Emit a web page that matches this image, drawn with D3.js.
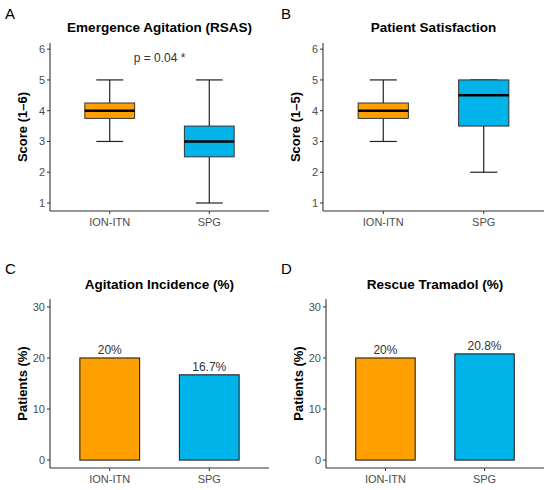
<!DOCTYPE html>
<html>
<head>
<meta charset="utf-8">
<script src="https://cdn.jsdelivr.net/npm/d3@7"></script>
<style>
  body { margin: 0; background: #fff; }
  text { font-family: "Liberation Sans", Arial, sans-serif; }
</style>
</head>
<body>
<svg width="550" height="490"></svg>
<script>
// data
const groups = ['ION-ITN', 'SPG'];
const groupColors = ['#FFA000', '#00B4EA'];

// box stats: [min, q1, median, q3, max]
const agitationBox = [[3, 3.75, 4, 4.25, 5], [1, 2.5, 3, 3.5, 5]];
const satisfactionBox = [[3, 3.75, 4, 4.25, 5], [2, 3.5, 4.5, 5, 5]];
const scoreTicks = [1, 2, 3, 4, 5, 6];

const agitationPct = [20, 16.7];
const tramadolPct = [20, 20.8];
const pctLabelsC = ['20%', '16.7%'];
const pctLabelsD = ['20%', '20.8%'];
const pctTicks = [0, 10, 20, 30];

const svg = d3.select('svg');

function frame(g, x, y, yTicks, opt) {
    // axis lines
    g.append('line')
        .attr('x1', opt.left).attr('x2', opt.left)
        .attr('y1', opt.top).attr('y2', opt.bottom)
        .attr('stroke', '#333').attr('stroke-width', 1.1);
    g.append('line')
        .attr('x1', opt.left).attr('x2', opt.right)
        .attr('y1', opt.bottom).attr('y2', opt.bottom)
        .attr('stroke', '#333').attr('stroke-width', 1.1);

    // y ticks
    yTicks.forEach(function(t) {
        g.append('line')
            .attr('x1', opt.left - 3).attr('x2', opt.left)
            .attr('y1', y(t)).attr('y2', y(t))
            .attr('stroke', '#333');
        g.append('text')
            .attr('x', opt.left - 5).attr('y', y(t)).attr('dy', '0.36em')
            .attr('text-anchor', 'end')
            .style('font-size', '11px').style('fill', '#4d4d4d')
            .text(t);
    });

    // x ticks
    groups.forEach(function(c) {
        g.append('line')
            .attr('x1', x(c)).attr('x2', x(c))
            .attr('y1', opt.bottom).attr('y2', opt.bottom + 3)
            .attr('stroke', '#333');
        g.append('text')
            .attr('x', x(c)).attr('y', opt.bottom + 15)
            .attr('text-anchor', 'middle')
            .style('font-size', '11px').style('fill', '#4d4d4d')
            .text(c);
    });

    // title
    g.append('text')
        .attr('x', (opt.left + opt.right) / 2).attr('y', opt.titleY)
        .attr('text-anchor', 'middle')
        .style('font-size', '13.5px').style('font-weight', 'bold')
        .text(opt.title);

    // y label
    g.append('text')
        .attr('transform', `translate(${opt.left - 23},${(opt.top + opt.bottom) / 2}) rotate(-90)`)
        .attr('text-anchor', 'middle')
        .style('font-size', '13px').style('font-weight', 'bold')
        .text(opt.ylab);

    // panel letter
    g.append('text')
        .attr('x', opt.letterX).attr('y', opt.letterY)
        .style('font-size', '15px')
        .text(opt.letter);
}

function boxPanel(stats, opt) {
    const g = svg.append('g');
    const x = d3.scalePoint().domain(groups).range([opt.left, opt.right]).padding(0.6);
    const y = d3.scaleLinear().domain([0.74, 6.2]).range([opt.bottom, opt.top]);
    const step = x.step();
    const bw = step * 0.5;
    const cw = step * 0.27;

    groups.forEach(function(c, i) {
        const s = stats[i];
        const cx = x(c);
        // whiskers
        g.append('line')
            .attr('x1', cx).attr('x2', cx).attr('y1', y(s[0])).attr('y2', y(s[1]))
            .attr('stroke', '#222').attr('stroke-width', 1.2);
        g.append('line')
            .attr('x1', cx).attr('x2', cx).attr('y1', y(s[3])).attr('y2', y(s[4]))
            .attr('stroke', '#222').attr('stroke-width', 1.2);
        [s[0], s[4]].forEach(function(v) {
            g.append('line')
                .attr('x1', cx - cw / 2).attr('x2', cx + cw / 2)
                .attr('y1', y(v)).attr('y2', y(v))
                .attr('stroke', '#222').attr('stroke-width', 1.2);
        });
        // box
        g.append('rect')
            .attr('x', cx - bw / 2).attr('width', bw)
            .attr('y', y(s[3])).attr('height', y(s[1]) - y(s[3]))
            .attr('fill', groupColors[i])
            .attr('stroke', '#333').attr('stroke-width', 1);
        // median
        g.append('line')
            .attr('x1', cx - bw / 2).attr('x2', cx + bw / 2)
            .attr('y1', y(s[2])).attr('y2', y(s[2]))
            .attr('stroke', '#000').attr('stroke-width', 2.4);
    });

    frame(g, x, y, scoreTicks, opt);
    return { g: g, x: x, y: y };
}

function barPanel(values, labels, opt) {
    const g = svg.append('g');
    const x = d3.scalePoint().domain(groups).range([opt.left, opt.right]).padding(0.6);
    const y = d3.scaleLinear().domain([-1.55, 31.55]).range([opt.bottom, opt.top]);
    const bw = x.step() * 0.6;

    g.selectAll('.bar')
        .data(values)
        .enter()
        .append('rect')
        .attr('x', function(d, i) { return x(groups[i]) - bw / 2; })
        .attr('width', bw)
        .attr('y', function(d) { return y(d); })
        .attr('height', function(d) { return y(0) - y(d); })
        .attr('fill', function(d, i) { return groupColors[i]; })
        .attr('stroke', '#222').attr('stroke-width', 1.1);

    g.selectAll('.lab')
        .data(values)
        .enter()
        .append('text')
        .attr('x', function(d, i) { return x(groups[i]); })
        .attr('y', function(d) { return y(d) - 4; })
        .attr('text-anchor', 'middle')
        .style('font-size', '12px').style('fill', '#333')
        .text(function(d, i) { return labels[i]; });

    frame(g, x, y, pctTicks, opt);
}

const a = boxPanel(agitationBox, {
    left: 50, right: 269, top: 43, bottom: 211, titleY: 32,
    title: 'Emergence Agitation (RSAS)', ylab: 'Score (1\u20136)',
    letter: 'A', letterX: 5, letterY: 19
});
a.g.append('text')
    .attr('x', (a.x('ION-ITN') + a.x('SPG')) / 2).attr('y', 62)
    .attr('text-anchor', 'middle')
    .style('font-size', '12px').style('fill', '#333')
    .text('p = 0.04 *');

boxPanel(satisfactionBox, {
    left: 323, right: 544, top: 43, bottom: 211, titleY: 32,
    title: 'Patient Satisfaction', ylab: 'Score (1\u20135)',
    letter: 'B', letterX: 281, letterY: 19
});

barPanel(agitationPct, pctLabelsC, {
    left: 50, right: 269, top: 299, bottom: 468, titleY: 289,
    title: 'Agitation Incidence (%)', ylab: 'Patients (%)',
    letter: 'C', letterX: 5, letterY: 274
});

barPanel(tramadolPct, pctLabelsD, {
    left: 326, right: 544, top: 299, bottom: 468, titleY: 289,
    title: 'Rescue Tramadol (%)', ylab: 'Patients (%)',
    letter: 'D', letterX: 281, letterY: 274
});
</script>
</body>
</html>
